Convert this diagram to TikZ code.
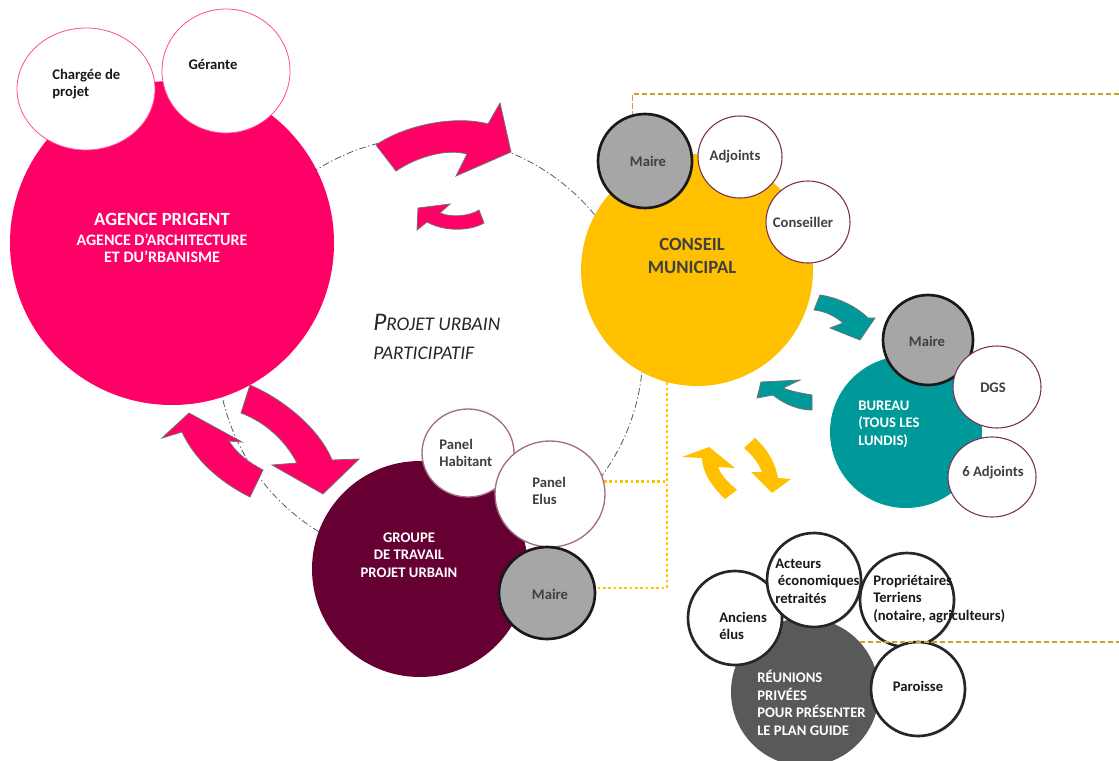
\documentclass[tikz,border=0pt]{standalone}
\usepackage{fontspec}
\setmainfont{Carlito}
\usetikzlibrary{shapes.geometric,shadows}
\definecolor{pinkc}{HTML}{FF0066}
\definecolor{yel}{HTML}{FFC000}
\definecolor{tealc}{HTML}{009999}
\definecolor{maroonc}{HTML}{660033}
\definecolor{dgray}{HTML}{595959}
\definecolor{mgray}{HTML}{A6A6A6}
\definecolor{txt}{HTML}{404040}
\definecolor{gold}{HTML}{C9A227}
\definecolor{plum}{HTML}{7B2D56}
\begin{document}
\begin{tikzpicture}[x=0.75pt,y=0.75pt,
  bub/.style 2 args={ellipse, inner sep=0pt, minimum width={1.5*#1pt}, minimum height={1.5*#2pt}},
  mairering/.style={fill=mgray, draw=black!90, line width=2pt},
  pinkring/.style={fill=white, draw=pinkc!70, line width=0.6pt},
  plumring/.style={fill=white, draw=plum, line width=0.8pt},
  panelring/.style={fill=white, draw=plum!70, line width=1pt},
  blackring/.style={fill=white, draw=black!85, line width=2pt, drop shadow={shadow xshift=1pt, shadow yshift=-1pt, opacity=0.3}},
  lbl/.style={font=\fontsize{11}{13.2}\selectfont\bfseries, inner sep=0pt, align=left},
  orbit/.style={draw=black!65, line width=0.6pt, dash pattern=on 5pt off 2pt on 1pt off 2pt},
  golddash/.style={draw=gold, line width=1.2pt, dash pattern=on 4pt off 2pt},
  dotline/.style={draw=yel, line width=2pt, dash pattern=on 2pt off 2pt},
  pinkarrow/.style={fill=pinkc, draw=black!55, line width=0.6pt},
  tealarrow/.style={fill=tealc, draw=black!55, line width=0.6pt},
  yelarrow/.style={fill=yel}
]
\useasboundingbox (0,0) rectangle (1119,-760);

% orbit
\draw[orbit] (430,-350) circle[radius=213];

% ---------- Agence ----------
\node[bub={162}{162}, fill=pinkc] (agence) at (172,-243) {};
\node[bub={69}{61}, pinkring] (charg) at (86,-89) {};
\node[bub={64}{62}, pinkring] (gerante) at (226,-71) {};
\node[lbl, anchor=west, text=black!90] (tcharg) at (52,-84) {Chargée de\\projet};
\node[lbl, text=black!90] (tger) at (213,-64) {Gérante};
\node[lbl, text=white, align=center, font=\fontsize{12}{12.75}\selectfont\bfseries] (tag) at (162,-238)
  {{\fontsize{14}{16}\selectfont AGENCE PRIGENT}\\[2pt]AGENCE D’ARCHITECTURE\\ET DU’RBANISME};

% pink arrows
\filldraw[pinkarrow] (376,-145) .. controls (405,-125) and (455,-115) .. (488,-124) -- (500,-103) -- (511,-152) -- (456,-176) -- (467,-154) .. controls (445,-148) and (415,-158) .. (396,-171) -- cycle;
\filldraw[pinkarrow] (479,-210) .. controls (470,-216) and (452,-218) .. (440,-213) -- (450,-204) -- (418,-208) -- (417,-230) -- (427,-222) .. controls (445,-232) and (470,-231) .. (484,-223) -- cycle;
\filldraw[pinkarrow] (250,-385) .. controls (285,-400) and (320,-430) .. (332,-460) -- (359,-459) -- (323,-494) -- (272,-465) -- (297,-463) .. controls (285,-440) and (265,-422) .. (241,-413) -- cycle;
\filldraw[pinkarrow] (263,-470) -- (250,-497) .. controls (220,-482) and (195,-460) .. (182,-432) -- (162,-438) -- (189,-413) -- (242,-442) -- (229,-441) .. controls (238,-455) and (250,-463) .. (263,-470) -- cycle;

% ---------- Conseil municipal ----------
\node[bub={116}{116}, fill=yel] (conseil) at (697,-270) {};
\node[bub={47}{47}, mairering] (maire1) at (645,-161) {};
\node[bub={42}{41}, plumring] (adj) at (740,-157) {};
\node[bub={42}{41}, plumring] (cons) at (808,-222) {};
\coordinate (d1) at (1119,-94);
\draw[golddash] (d1) -| (maire1.105);
\node[lbl, text=txt] (tm1) at (648,-161) {Maire};
\node[lbl, text=txt] (tadj) at (735,-157) {Adjoints};
\node[lbl, text=txt] (tcons) at (803,-222) {Conseiller};
\node[lbl, text=txt, align=center, font=\fontsize{14}{17}\selectfont\bfseries] (tconseil) at (692,-256) {CONSEIL\\MUNICIPAL};

% teal arrows
\filldraw[tealarrow] (820,-295) .. controls (835,-297) and (855,-305) .. (868,-318) -- (875,-318) -- (860,-340) -- (830,-328) -- (843,-323) .. controls (835,-316) and (825,-311) .. (814,-310) -- cycle;
\filldraw[tealarrow] (812,-395) .. controls (800,-393) and (790,-391) .. (783,-388) -- (800,-380) -- (761,-382) -- (757,-398) -- (773,-395) .. controls (785,-405) and (800,-410) .. (812,-410) -- cycle;

% ---------- Bureau ----------
\node[bub={76}{76}, fill=tealc] (bureau) at (906,-432) {};
\node[bub={45}{45}, mairering] (maire2) at (928,-340) {};
\node[bub={44}{41}, plumring] (dgs) at (997,-387) {};
\node[bub={44}{40}, plumring] (adj6) at (992,-477) {};
\node[lbl, text=txt] (tm2) at (927,-341) {Maire};
\node[lbl, text=txt] (tdgs) at (993,-388) {DGS};
\node[lbl, text=txt] (tadj6) at (993,-473) {6 Adjoints};
\node[lbl, text=white, anchor=west] (tbur) at (858,-424) {BUREAU\\(TOUS LES\\LUNDIS)};

% ---------- Groupe de travail ----------
\node[bub={108}{108}, fill=maroonc] (groupe) at (420,-569) {};
\node[bub={46}{44}, panelring] (habit) at (468,-453) {};
\node[bub={55}{53}, panelring] (elus) at (550,-494) {};
\node[bub={48}{46}, mairering] (maire3) at (547,-593) {};
\node[lbl, text=white, align=center] (tgroupe) at (409,-555) {GROUPE\\DE TRAVAIL\\PROJET URBAIN};
\node[lbl, text=txt, anchor=west] (thabit) at (439,-453) {Panel\\Habitant};
\node[lbl, text=txt, anchor=west] (telus) at (532,-491) {Panel\\Elus};
\node[lbl, text=txt] (tm3) at (550,-594) {Maire};

% dotted links
\draw[dotline] (conseil.255) |- (maire3.6);
\draw[dotline] (elus.13) -- (elus.13 -| conseil.255);

% yellow arrows
\fill[yelarrow] (737,-490) -- (725,-499) .. controls (710,-485) and (702,-470) .. (702,-458) -- (682,-457) -- (709,-447) -- (735,-468) -- (718,-467) .. controls (722,-477) and (730,-484) .. (737,-490) -- cycle;
\fill[yelarrow] (755,-438) .. controls (768,-450) and (775,-462) .. (778,-478) -- (791,-479) -- (772,-493) -- (751,-472) -- (762,-472) .. controls (758,-462) and (752,-455) .. (744,-448) -- cycle;

% projet urbain
\node[inner sep=0pt, align=left, anchor=west, text=black!85, font=\fontsize{14.5}{22}\selectfont\itshape] (tprojet) at (373,-337)
  {{\fontsize{19}{22}\selectfont P}ROJET URBAIN\\PARTICIPATIF};

% ---------- Réunions privées ----------
\node[bub={74}{74}, fill=dgray] (reun) at (805,-692) {};
\node[bub={47}{47}, blackring] (anciens) at (735,-618) {};
\node[bub={47}{47}, blackring] (acteurs) at (814,-580) {};
\node[bub={47}{47}, blackring] (proprio) at (907,-600) {};
\node[bub={47}{47}, blackring] (paroisse) at (918,-689) {};
\node[lbl, text=black!90, anchor=west] (tanciens) at (719,-626) {Anciens\\élus};
\node[lbl, text=black!90, anchor=west] (tacteurs) at (775,-581) {Acteurs\\\hspace{2pt}économiques\\retraités};
\node[lbl, text=black!90, anchor=west] (tproprio) at (873,-599) {Propriétaires\\Terriens\\(notaire, agriculteurs)};
\node[lbl, text=black!90] (tparoisse) at (918,-686) {Paroisse};
\node[lbl, text=white, anchor=west] (treun) at (757,-703) {RÉUNIONS\\PRIVÉES\\POUR PRÉSENTER\\LE PLAN GUIDE};

\coordinate (d2a) at (860,-642);
\coordinate (d2b) at (1119,-642);
\draw[golddash] (d2a) -- (d2b);
\end{tikzpicture}
\end{document}
